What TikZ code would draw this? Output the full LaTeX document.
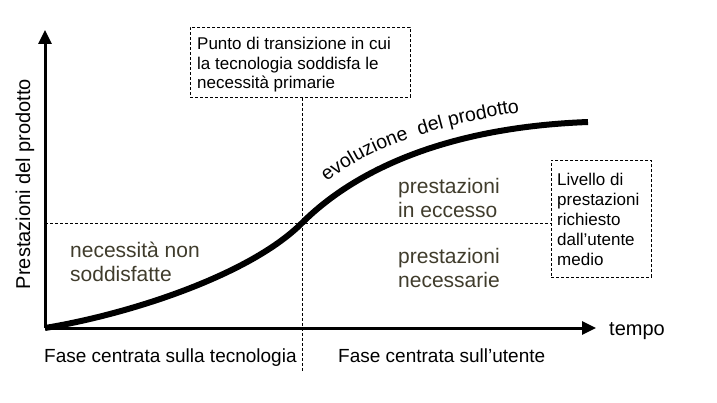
\documentclass[tikz,border=0pt]{standalone}
\usepackage{fontspec}
\setmainfont{Liberation Sans}
\usetikzlibrary{arrows.meta, positioning, decorations.text}
\definecolor{labelgray}{RGB}{64,60,44}

\begin{document}
\begin{tikzpicture}[x=1pt,y=-1pt]
\tikzset{
  axis/.style={line width=3pt, -{Triangle[length=14pt,width=13pt]}},
  guide/.style={line width=0.8pt, dash pattern=on 3pt off 2pt},
  notebox/.style={draw, guide, inner sep=0pt, anchor=north west},
  notetext/.style={anchor=north west, align=left, inner sep=0pt,
    font=\fontsize{17}{19.6}\selectfont},
  zone/.style={text=labelgray, align=left, inner sep=0pt, anchor=west,
    font=\fontsize{21}{24}\selectfont},
  axislabel/.style={inner sep=0pt, font=\fontsize{19}{22}\selectfont}
}
\useasboundingbox (0,0) rectangle (717,403);

\coordinate (O) at (45,328);
\coordinate (T) at (302,223);
\coordinate (E) at (588,122);
\coordinate (Ytip) at (45,30);
\coordinate (Xtip) at (596,328);
\coordinate (Vend) at (302,372);

% note boxes
\node[notebox, minimum width=220pt, minimum height=70pt] (punto) at (190,27) {};
\node[notetext] (puntotext) at (197,37)
  {Punto di transizione in cui\\la tecnologia soddisfa le\\necessit\`a primarie};
\node[notebox, minimum width=100pt, minimum height=117pt] (livello) at (551,160) {};
\node[notetext, font=\fontsize{17}{20}\selectfont] (livellotext) at (557,173)
  {Livello di\\prestazioni\\richiesto\\dall’utente\\medio};

% dashed guides
\draw[guide] (O |- T) -- (T -| livello.west);
\draw[guide] (punto.south -| T) -- (Vend);

% axes
\draw[axis] (O) -- (Ytip);
\draw[axis] (O) -- (Xtip);

% product curve
\draw[line width=6pt] (O) .. controls (130,314) and (250,275) .. (T)
  .. controls (345,180) and (430,128) .. (E);

% curve label along its baseline
\path[decorate, decoration={text along path, text align=left,
  text={|\fontsize{19.5}{21}\selectfont|evoluzione{\ } del prodotto}}]
  (327,182) .. controls (366,150) and (430,125) .. (535,110);

% zone labels
\node[zone] (nonsodd) at (70,262) {necessit\`a non\\soddisfatte};
\node[zone] (eccesso) at (398,198) {prestazioni\\in eccesso};
\node[zone] (necess) at (398,268) {prestazioni\\necessarie};

% axis labels
\node[axislabel, rotate=90, font=\fontsize{20}{22}\selectfont] (ylab) at (25,184) {Prestazioni del prodotto};
\node[axislabel, anchor=base west, font=\fontsize{20}{22}\selectfont] (tempo) at (609,335) {tempo};
\node[axislabel, anchor=base west] (fase1) at (44,362) {Fase centrata sulla tecnologia};
\node[axislabel, anchor=base west] (fase2) at (338,362) {Fase centrata sull’utente};
\end{tikzpicture}
\end{document}
